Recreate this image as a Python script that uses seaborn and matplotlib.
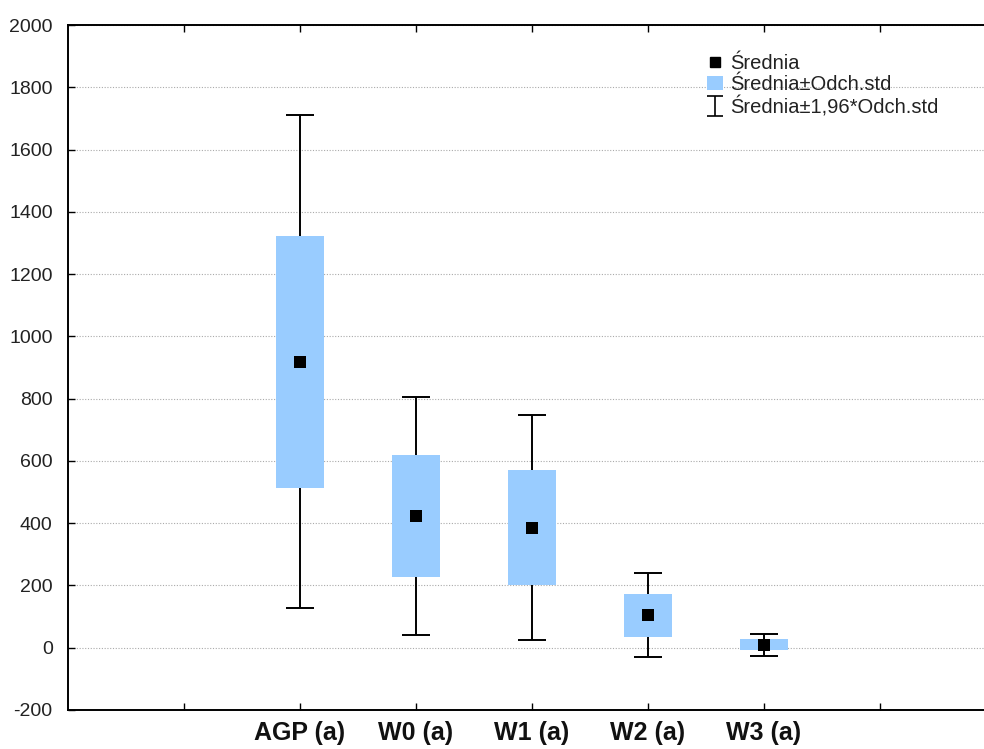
import numpy as np
import matplotlib
matplotlib.use("Agg")
import matplotlib.pyplot as plt
import seaborn as sns
import pandas as pd
from matplotlib.patches import Patch
from matplotlib.lines import Line2D

# ---- data ----
categories = ["AGP (a)", "W0 (a)", "W1 (a)", "W2 (a)", "W3 (a)"]
means = [918, 423, 386, 104, 10]
sds = [404, 195, 184, 69, 18]
factor = 1.96
y_ticks = [-200, 0, 200, 400, 600, 800, 1000, 1200, 1400, 1600, 1800, 2000]
legend_labels = ["Średnia", "Średnia±Odch.std", "Średnia±1,96*Odch.std"]

sns.set_theme(style="white")
plt.rcParams["font.family"] = ["Liberation Sans", "DejaVu Sans"]

df = pd.DataFrame({"cat": categories, "mean": means, "sd": sds})
df["pos"] = np.arange(len(df))
df["lo1"] = df["mean"] - df["sd"]
df["hi1"] = df["mean"] + df["sd"]
df["lo2"] = df["mean"] - factor * df["sd"]
df["hi2"] = df["mean"] + factor * df["sd"]

box_color = "#99CCFF"

fig = plt.figure(figsize=(9.84, 7.49), dpi=100)
ax = fig.add_axes([68 / 984, 39 / 749, (996 - 68) / 984, (711 - 26) / 749])

# whiskers (±1.96 SD)
ax.errorbar(df["pos"], df["mean"],
            yerr=[df["mean"] - df["lo2"], df["hi2"] - df["mean"]],
            fmt="none", ecolor="black", elinewidth=1.4, capsize=10, capthick=1.4, zorder=2)
# boxes (±SD)
ax.bar(df["pos"], df["hi1"] - df["lo1"], bottom=df["lo1"], width=0.41,
       color=box_color, edgecolor="none", zorder=3)
# means
sns.scatterplot(data=df, x="pos", y="mean", marker="s", s=75, color="black",
                edgecolor="none", ax=ax, zorder=4, legend=False)

ax.set_xlim(-2, 6)
ax.set_ylim(-200, 2000)
ax.set_yticks(y_ticks)
ax.set_yticklabels([str(v) for v in y_ticks], fontsize=14, color="#222222")
ax.set_xticks(np.arange(-1, 6))
ax.set_xticklabels([""] + categories + [""], fontsize=18, fontweight="bold", color="#111111")
ax.set_xlabel("")
ax.set_ylabel("")
ax.yaxis.grid(True, linestyle=(0, (1, 1.5)), color="#aaaaaa", linewidth=0.8)
ax.xaxis.grid(False)
ax.set_axisbelow(True)
ax.tick_params(axis="both", direction="in", length=5, width=1, color="black",
               top=True, bottom=True, left=True, right=False)
ax.tick_params(axis="y", pad=11)
ax.tick_params(axis="x", pad=8)
for sp in ax.spines.values():
    sp.set_color("black")
    sp.set_linewidth(1.4)
ax.spines["right"].set_visible(False)

# legend
eb = ax.errorbar([np.nan], [np.nan], yerr=[1], fmt="none", ecolor="black",
                 elinewidth=1.2, capsize=6, capthick=1.2)
handles = [
    Line2D([], [], marker="s", linestyle="none", color="black", markersize=6.5),
    Patch(facecolor=box_color, edgecolor="none"),
    eb,
]
leg = ax.legend(handles, legend_labels, loc="upper left",
                bbox_to_anchor=(697 / 984, 1 - 44 / 749), bbox_transform=fig.transFigure,
                frameon=False, fontsize=14.5, handlelength=0.8, handletextpad=0.35,
                labelspacing=0.1, borderpad=0)
for t in leg.get_texts():
    t.set_color("#222222")

fig.savefig("out.png", dpi=100)
